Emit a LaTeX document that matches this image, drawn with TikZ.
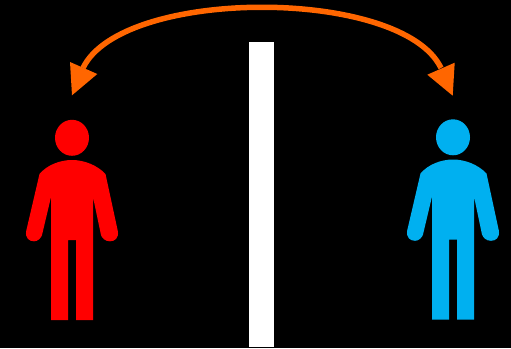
\documentclass[tikz,border=0pt]{standalone}
\definecolor{arrowc}{HTML}{FF6600}
\definecolor{bluep}{HTML}{00B0F0}
\definecolor{redp}{HTML}{FF0000}
\tikzset{
  person/.pic={
    \fill[pic actions] (72,137.8) ellipse [x radius=17,y radius=18];
    \fill[pic actions] (39.5,173.5) .. controls (48,165) and (60,160) (72,160)
      -- cycle;
  },
  arrowline/.style={draw=arrowc,line width=5.5pt},
  arrowhead/.style={fill=arrowc}
}
\begin{document}
\begin{tikzpicture}[x=1pt,y=-1pt]
\useasboundingbox (0,0) rectangle (511,348);
\fill[black] (0,0) rectangle (511,348);
\fill[white] (249,42) rectangle (274,347);
\newcommand{\figureshape}[2]{%
  \begin{scope}[xshift=#1pt,yshift=#2pt]
    \fill[pcol] (72,137.8) ellipse [x radius=17,y radius=18];
    \fill[pcol] (39.5,174)
      .. controls (47,165) and (60,160) .. (72,160)
      .. controls (84,160) and (97,165) .. (105.5,174)
      -- (117.8,231)
      .. controls (119,238) and (115,241.3) .. (110,241.3)
      .. controls (105,241.3) and (102,238) .. (101,235)
      -- (93,197) -- (93,320) -- (76,320) -- (76,240) -- (68,240) -- (68,320) -- (51,320) -- (51,197)
      -- (42,235)
      .. controls (41,238) and (38,241.3) .. (34,241.3)
      .. controls (29,241.3) and (25,238) .. (26.2,231)
      -- cycle;
  \end{scope}}
\colorlet{pcol}{redp}
\figureshape{0}{0}
\colorlet{pcol}{bluep}
\figureshape{381}{0.5}
\coordinate (la) at (83,68);
\coordinate (ra) at (441,68);
\draw[arrowline] (la) .. controls (122,-13) and (402,-13) .. (ra);
\fill[arrowhead] (72,95.3) -- (70,62) -- (97.3,74) -- cycle;
\fill[arrowhead] (452.7,95.7) -- (454.7,62.7) -- (427.3,74.7) -- cycle;
\end{tikzpicture}
\end{document}
